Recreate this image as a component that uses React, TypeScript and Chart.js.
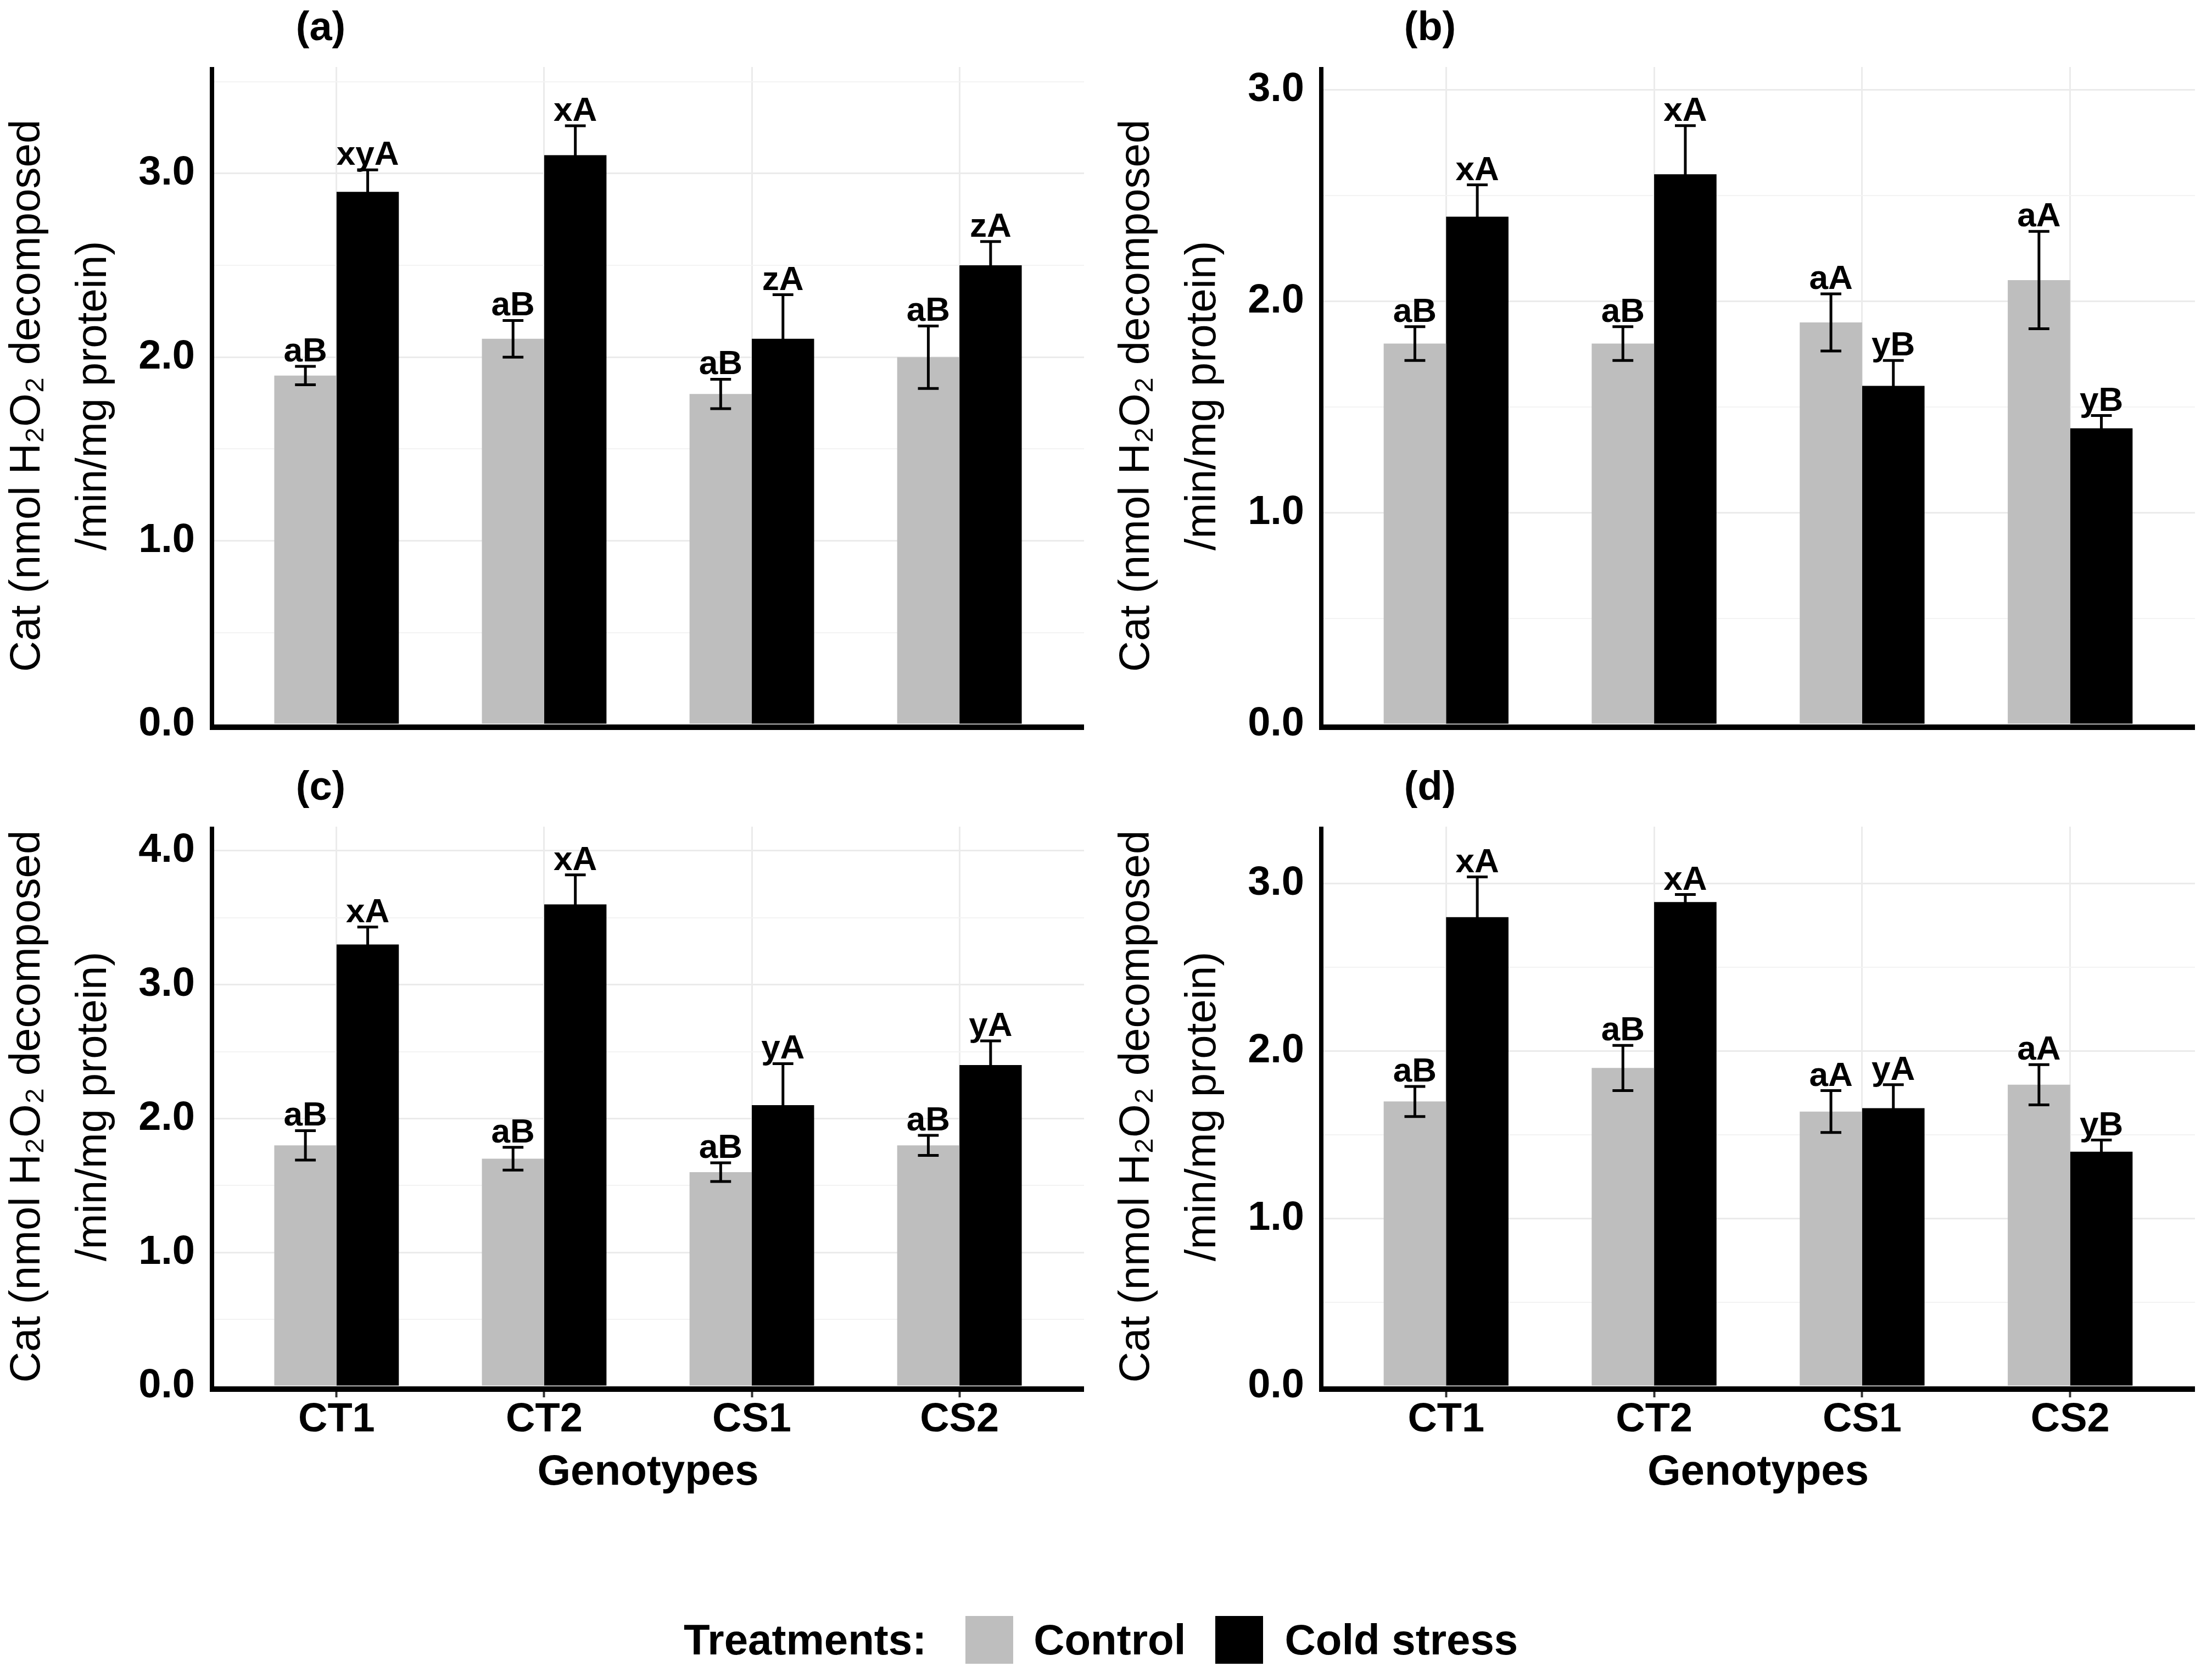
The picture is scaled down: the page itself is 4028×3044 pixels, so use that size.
import { useEffect, useRef } from "react";
import { Chart, registerables } from "chart.js";

Chart.register(...registerables);

const genotypes = ["CT1", "CT2", "CS1", "CS2"];
const treatments = ["Control", "Cold stress"];
const panelTitles = ["(a)", "(b)", "(c)", "(d)"];
const yTitle = ["Cat (nmol H\u2082O\u2082 decomposed", "/min/mg protein)"];

// (a)
const controlA = [1.9, 2.1, 1.8, 2.0];
const controlErrA = [0.05, 0.1, 0.08, 0.17];
const coldA = [2.9, 3.1, 2.1, 2.5];
const coldErrA = [0.12, 0.16, 0.24, 0.13];
const controlLettersA = ["aB", "aB", "aB", "aB"];
const coldLettersA = ["xyA", "xA", "zA", "zA"];

// (b)
const controlB = [1.8, 1.8, 1.9, 2.1];
const controlErrB = [0.08, 0.08, 0.135, 0.23];
const coldB = [2.4, 2.6, 1.6, 1.4];
const coldErrB = [0.15, 0.23, 0.12, 0.06];
const controlLettersB = ["aB", "aB", "aA", "aA"];
const coldLettersB = ["xA", "xA", "yB", "yB"];

// (c)
const controlC = [1.8, 1.7, 1.6, 1.8];
const controlErrC = [0.11, 0.085, 0.07, 0.075];
const coldC = [3.3, 3.6, 2.1, 2.4];
const coldErrC = [0.13, 0.22, 0.31, 0.18];
const controlLettersC = ["aB", "aB", "aB", "aB"];
const coldLettersC = ["xA", "xA", "yA", "yA"];

// (d)
const controlD = [1.7, 1.9, 1.64, 1.8];
const controlErrD = [0.09, 0.135, 0.125, 0.12];
const coldD = [2.8, 2.89, 1.66, 1.4];
const coldErrD = [0.24, 0.045, 0.14, 0.07];
const controlLettersD = ["aB", "aB", "aA", "aA"];
const coldLettersD = ["xA", "xA", "yA", "yB"];

// y axis upper limits per panel, tick step
const yMax = [3.58, 3.107, 4.18, 3.34];
const yStep = 0.5;

const FONT = "'Liberation Sans', Arial, Helvetica, sans-serif";
const GREY = "#BEBEBE";

const panels = [
  { control: controlA, controlErr: controlErrA, cold: coldA, coldErr: coldErrA, controlLetters: controlLettersA, coldLetters: coldLettersA },
  { control: controlB, controlErr: controlErrB, cold: coldB, coldErr: coldErrB, controlLetters: controlLettersB, coldLetters: coldLettersB },
  { control: controlC, controlErr: controlErrC, cold: coldC, coldErr: coldErrC, controlLetters: controlLettersC, coldLetters: coldLettersC },
  { control: controlD, controlErr: controlErrD, cold: coldD, coldErr: coldErrD, controlLetters: controlLettersD, coldLetters: coldLettersD },
];

// canvas boxes for the 2x2 grid
const boxes = [
  { left: 0, top: 0, width: 2010, height: 1400, axisW: 386, axisH: 81, padTop: 122, padRight: 36, bottomRow: false },
  { left: 2020, top: 0, width: 2008, height: 1400, axisW: 386, axisH: 81, padTop: 122, padRight: 31, bottomRow: false },
  { left: 0, top: 1400, width: 2010, height: 1450, axisW: 386, axisH: 326, padTop: 105, padRight: 36, bottomRow: true },
  { left: 2020, top: 1400, width: 2008, height: 1450, axisW: 386, axisH: 326, padTop: 105, padRight: 31, bottomRow: true },
];

const errorBarPlugin = {
  id: "errorBars",
  afterDatasetsDraw(chart: any) {
    const { ctx } = chart;
    const xs = chart.scales.x;
    const ys = chart.scales.y;
    const capHalf = xs.getPixelForValue(0.05) - xs.getPixelForValue(0);
    ctx.save();
    chart.data.datasets.forEach((ds: any, i: number) => {
      const meta = chart.getDatasetMeta(i);
      meta.data.forEach((bar: any, j: number) => {
        const v = ds.data[j].y;
        const e = ds.errors[j];
        const top = ys.getPixelForValue(v + e);
        const bot = ys.getPixelForValue(v - e);
        ctx.strokeStyle = "#000";
        ctx.lineWidth = 5;
        ctx.beginPath();
        ctx.moveTo(bar.x, top);
        ctx.lineTo(bar.x, bot);
        ctx.moveTo(bar.x - capHalf, top);
        ctx.lineTo(bar.x + capHalf, top);
        ctx.moveTo(bar.x - capHalf, bot);
        ctx.lineTo(bar.x + capHalf, bot);
        ctx.stroke();
        ctx.fillStyle = "#000";
        ctx.font = `bold 62px ${FONT}`;
        ctx.textAlign = "center";
        ctx.textBaseline = "alphabetic";
        ctx.fillText(ds.letters[j], bar.x, top - 9);
      });
    });
    ctx.restore();
  },
};

const axisLinePlugin = {
  id: "axisLines",
  afterDatasetsDraw(chart: any) {
    const { ctx, chartArea: a } = chart;
    ctx.save();
    ctx.fillStyle = "#000";
    ctx.fillRect(a.left - 4, a.top, 8, a.bottom + 10 - a.top);
    ctx.fillRect(a.left - 4, a.bottom, a.right - a.left + 4, 10);
    ctx.restore();
  },
};

const panelTitlePlugin = {
  id: "panelTitle",
  afterDraw(chart: any, _args: any, opts: any) {
    const { ctx, chartArea: a } = chart;
    ctx.save();
    ctx.fillStyle = "#000";
    ctx.font = `bold 74px ${FONT}`;
    ctx.textAlign = "center";
    ctx.textBaseline = "middle";
    ctx.fillText(opts.text, a.left + 198, a.top - 69);
    ctx.restore();
  },
};

function Panel({ index }: { index: number }) {
  const canvasRef = useRef<HTMLCanvasElement>(null);
  const chartRef = useRef<Chart | null>(null);
  const p = panels[index];
  const box = boxes[index];

  useEffect(() => {
    if (!canvasRef.current) return;
    if (chartRef.current) chartRef.current.destroy();

    const bottom = box.bottomRow;
    const max = yMax[index];

    chartRef.current = new Chart(canvasRef.current, {
      type: "bar",
      data: {
        datasets: [
          {
            label: treatments[0],
            data: genotypes.map((_, i) => ({ x: i, y: p.control[i] })),
            backgroundColor: GREY,
            borderWidth: 0,
            errors: p.controlErr,
            letters: p.controlLetters,
          } as any,
          {
            label: treatments[1],
            data: genotypes.map((_, i) => ({ x: i, y: p.cold[i] })),
            backgroundColor: "#000000",
            borderWidth: 0,
            errors: p.coldErr,
            letters: p.coldLetters,
          } as any,
        ],
      },
      options: {
        responsive: false,
        maintainAspectRatio: false,
        animation: false,
        devicePixelRatio: 1,
        layout: { padding: { top: box.padTop, right: box.padRight, left: 0, bottom: 0 } },
        datasets: { bar: { categoryPercentage: 0.6, barPercentage: 1.0 } },
        plugins: {
          legend: { display: false },
          tooltip: { enabled: false },
          panelTitle: { text: panelTitles[index] },
        } as any,
        scales: {
          x: {
            type: "linear",
            offset: false,
            min: -0.6,
            max: genotypes.length - 0.4,
            afterBuildTicks: (s: any) => {
              s.ticks = genotypes.map((_, i) => ({ value: i }));
            },
            afterFit: (s: any) => {
              s.height = box.axisH;
            },
            grid: {
              offset: false,
              color: "#EBEBEB",
              lineWidth: 3,
              drawTicks: bottom,
              tickLength: 20,
              tickColor: "#333333",
              tickWidth: 4,
            },
            border: { display: false },
            ticks: {
              display: bottom,
              autoSkip: false,
              maxRotation: 0,
              padding: -3,
              color: "#000",
              font: { family: FONT, size: 74, weight: "bold" },
              callback: (v: any) => genotypes[v],
            },
            title: {
              display: bottom,
              text: "Genotypes",
              color: "#000",
              font: { family: FONT, size: 78, weight: "bold" },
              padding: { top: 0, bottom: 122 },
            },
          },
          y: {
            type: "linear",
            min: 0,
            max,
            afterBuildTicks: (s: any) => {
              const t = [];
              for (let i = 0; i * yStep <= max; i++) t.push({ value: i * yStep });
              s.ticks = t;
            },
            afterFit: (s: any) => {
              s.width = box.axisW;
            },
            grid: {
              drawTicks: false,
              color: (c: any) => (c.tick && c.tick.value % 1 === 0 ? "#EBEBEB" : "#F3F3F3"),
              lineWidth: (c: any) => (c.tick && c.tick.value % 1 === 0 ? 3 : 2),
            },
            border: { display: false },
            ticks: {
              padding: 31,
              color: "#000",
              font: { family: FONT, size: 74, weight: "bold" },
              callback: (v: any) => (Number(v) % 1 === 0 ? Number(v).toFixed(1) : ""),
            },
            title: {
              display: true,
              text: yTitle,
              color: "#000",
              font: { family: FONT, size: 78, weight: "normal", lineHeight: 1.55 },
              padding: { top: -10, bottom: 0 },
            },
          },
        },
      },
      plugins: [axisLinePlugin, errorBarPlugin, panelTitlePlugin],
    });

    return () => {
      if (chartRef.current) {
        chartRef.current.destroy();
        chartRef.current = null;
      }
    };
  }, [index]);

  return (
    <canvas
      ref={canvasRef}
      width={box.width}
      height={box.height}
      style={{ position: "absolute", left: box.left, top: box.top, width: box.width, height: box.height }}
    />
  );
}

export default function App() {
  return (
    <div
      style={{
        position: "absolute",
        left: 0,
        top: 0,
        width: 4028,
        height: 3044,
        background: "#ffffff",
        overflow: "hidden",
      }}
    >
      {panels.map((_, i) => (
        <Panel key={i} index={i} />
      ))}
      <div
        style={{
          position: "absolute",
          left: 1245,
          top: 2942,
          height: 87,
          display: "flex",
          alignItems: "center",
          fontFamily: FONT,
          fontWeight: "bold",
          fontSize: 78,
          lineHeight: "87px",
          color: "#000",
          whiteSpace: "nowrap",
        }}
      >
        <span style={{ marginRight: 71 }}>Treatments:</span>
        <span style={{ display: "inline-block", width: 87, height: 87, background: GREY, marginRight: 37 }} />
        <span style={{ marginRight: 54 }}>{treatments[0]}</span>
        <span style={{ display: "inline-block", width: 87, height: 87, background: "#000", marginRight: 39 }} />
        <span>{treatments[1]}</span>
      </div>
    </div>
  );
}
